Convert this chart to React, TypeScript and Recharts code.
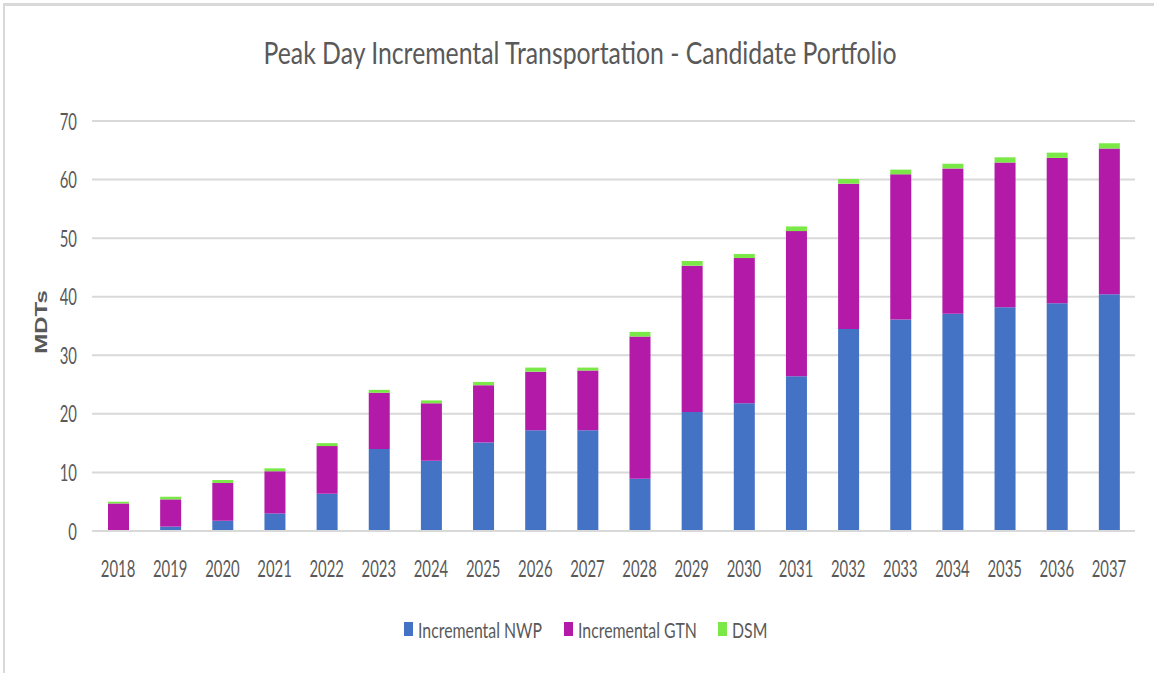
import { Bar, BarChart, CartesianGrid, XAxis, YAxis } from 'recharts'

const years = [
  '2018', '2019', '2020', '2021', '2022', '2023', '2024', '2025', '2026', '2027',
  '2028', '2029', '2030', '2031', '2032', '2033', '2034', '2035', '2036', '2037',
]
const incrementalNwp = [
  0, 0.75, 1.75, 3.0, 6.35, 14.0, 12.0, 15.1, 17.2, 17.2,
  8.9, 20.3, 21.8, 26.4, 34.5, 36.1, 37.1, 38.2, 38.9, 40.4,
]
const incrementalGtn = [
  4.7, 4.65, 6.45, 7.2, 8.15, 9.6, 9.8, 9.8, 10.0, 10.2,
  24.3, 25.0, 24.8, 24.8, 24.8, 24.8, 24.8, 24.7, 24.8, 24.9,
]
const dsm = [
  0.3, 0.45, 0.5, 0.5, 0.5, 0.5, 0.5, 0.55, 0.7, 0.5,
  0.8, 0.8, 0.7, 0.8, 0.8, 0.8, 0.8, 0.9, 0.9, 0.9,
]
const yTicks = [0, 10, 20, 30, 40, 50, 60, 70]

const series = [
  { key: 'nwp', name: 'Incremental NWP', color: '#4472C4' },
  { key: 'gtn', name: 'Incremental GTN', color: '#B41AA8' },
  { key: 'dsm', name: 'DSM', color: '#7AE846' },
]

const FONT = 'Lato, "Open Sans", sans-serif'
const TEXT = '#595959'
const SQUEEZE = 0.62

const W = 1154
const H = 673

function XTick(props: any) {
  const { x, y, payload } = props
  return (
    <text
      transform={`translate(${x},${y + 46}) scale(${SQUEEZE},1)`}
      textAnchor='middle'
      fontFamily={FONT}
      fontSize={24}
      fill={TEXT}
    >
      {payload.value}
    </text>
  )
}

function YTick(props: any) {
  const { x, y, payload } = props
  return (
    <text
      transform={`translate(${x - 15},${y + 8.5}) scale(${SQUEEZE},1)`}
      textAnchor='end'
      fontFamily={FONT}
      fontSize={24}
      fill={TEXT}
    >
      {payload.value}
    </text>
  )
}

const legendX = [404, 564, 718]

function Overlay() {
  return (
    <svg
      width={W}
      height={H}
      style={{ position: 'absolute', left: 0, top: 0, pointerEvents: 'none' }}
    >
      <text
        transform={`translate(580,64) scale(0.8,1)`}
        textAnchor='middle'
        fontFamily={FONT}
        fontSize={31}
        fill={TEXT}
      >
        Peak Day Incremental Transportation - Candidate Portfolio
      </text>
      <text
        transform='translate(47,322) rotate(-90) scale(1,0.72)'
        textAnchor='middle'
        fontFamily='"Liberation Sans", Arial, sans-serif'
        fontWeight='bold'
        fontSize={24}
        fill={TEXT}
      >
        MDTs
      </text>
      {series.map((s, i) => (
        <g key={s.key}>
          <rect x={legendX[i]} y={622} width={9} height={14} fill={s.color} />
          <text
            transform={`translate(${legendX[i] + 14},638) scale(0.72,1)`}
            fontFamily={FONT}
            fontSize={22}
            fill={TEXT}
          >
            {s.name}
          </text>
        </g>
      ))}
    </svg>
  )
}

export default function App() {
  const chartData = years.map((year, i) => ({
    year,
    nwp: incrementalNwp[i],
    gtn: incrementalGtn[i],
    dsm: dsm[i],
  }))

  return (
    <div
      style={{
        position: 'absolute',
        left: 0,
        top: 0,
        width: W,
        height: H,
        background: '#fff',
        overflow: 'hidden',
      }}
    >
      <div
        style={{
          position: 'absolute',
          left: 3,
          top: 3,
          right: -10,
          bottom: -10,
          borderTop: '3px solid #d9d9d9',
          borderLeft: '2px solid #d9d9d9',
        }}
      />
      <BarChart
        width={W}
        height={H}
        data={chartData}
        margin={{ top: 121, right: 19, left: 32, bottom: 112 }}
        barSize={21}
        style={{ position: 'absolute', left: 0, top: 0 }}
      >
        <CartesianGrid stroke='#d9d9d9' strokeWidth={2} vertical={false} />
        <XAxis
          dataKey='year'
          height={30}
          tick={<XTick />}
          tickLine={false}
          tickSize={0}
          tickMargin={0}
          axisLine={{ stroke: '#d9d9d9', strokeWidth: 2 }}
          interval={0}
        />
        <YAxis
          width={60}
          domain={[0, 70]}
          ticks={yTicks}
          tick={<YTick />}
          tickLine={false}
          tickSize={0}
          tickMargin={0}
          axisLine={false}
        />
        {series.map((s) => (
          <Bar
            key={s.key}
            dataKey={s.key}
            name={s.name}
            stackId='a'
            fill={s.color}
            isAnimationActive={false}
          />
        ))}
      </BarChart>
      <Overlay />
    </div>
  )
}
